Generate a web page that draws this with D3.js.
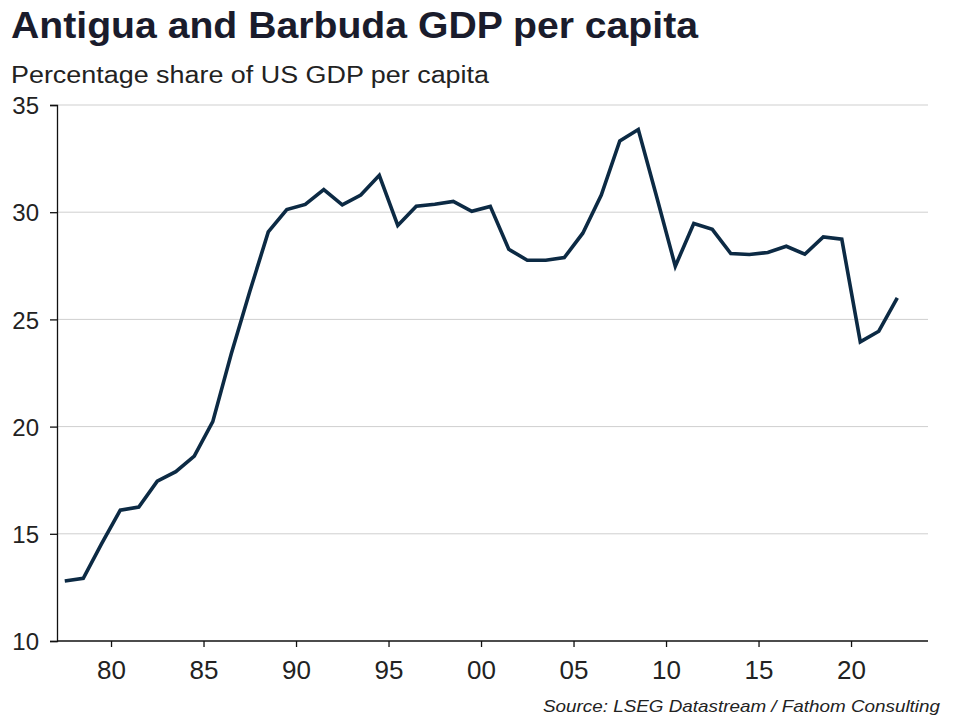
<!DOCTYPE html>
<html>
<head>
<meta charset="utf-8">
<script src="https://cdn.jsdelivr.net/npm/d3@7"></script>
<style>
  html, body { margin: 0; padding: 0; background: #fff; }
  svg { display: block; }
</style>
</head>
<body>
<svg id="chart" width="960" height="720"></svg>
<script>
const years = [1977,1978,1979,1980,1981,1982,1983,1984,1985,1986,1987,1988,1989,1990,
  1991,1992,1993,1994,1995,1996,1997,1998,1999,2000,2001,2002,2003,2004,2005,2006,
  2007,2008,2009,2010,2011,2012,2013,2014,2015,2016,2017,2018,2019,2020,2021,2022];
const shareOfUS = [12.8,12.92,14.55,16.1,16.25,17.45,17.9,18.62,20.23,23.4,26.3,29.08,30.12,30.36,
  31.05,30.34,30.8,31.72,29.38,30.28,30.37,30.5,30.04,30.27,28.27,27.76,27.76,27.88,29.02,30.8,
  33.32,33.86,30.7,27.48,29.47,29.2,28.07,28.03,28.12,28.41,28.04,28.85,28.74,23.95,24.45,26.0];
const yTicks = [10,15,20,25,30,35];
const xTickYears = [1980,1985,1990,1995,2000,2005,2010,2015,2020];
const xTickLabels = ["80","85","90","95","00","05","10","15","20"];

const titleText = "Antigua and Barbuda GDP per capita";
const subtitleText = "Percentage share of US GDP per capita";
const sourceText = "Source: LSEG Datastream / Fathom Consulting";

const svg = d3.select("#chart");
const font = "'Liberation Sans', Arial, sans-serif";
const plotL = 57, plotR = 928, plotT = 105, plotB = 641;

const x = d3.scaleLinear().domain([1977.08, 2024.16]).range([plotL, plotR]);
const y = d3.scaleLinear().domain([10, 35]).range([plotB, plotT]);

// Title & subtitle
svg.append("text").attr("x", 11).attr("y", 38)
  .attr("font-family", font).attr("font-weight", "bold").attr("font-size", 36)
  .attr("textLength", 687).attr("lengthAdjust", "spacingAndGlyphs")
  .attr("fill", "#1a1c2c").text(titleText);
svg.append("text").attr("x", 11).attr("y", 83)
  .attr("font-family", font).attr("font-size", 23.5)
  .attr("textLength", 478).attr("lengthAdjust", "spacingAndGlyphs")
  .attr("fill", "#222").text(subtitleText);

// gridlines
svg.append("g").selectAll("line").data(yTicks.filter(d => d !== 10)).join("line")
  .attr("x1", plotL).attr("x2", plotR)
  .attr("y1", d => y(d)).attr("y2", d => y(d))
  .attr("stroke", "#cfcfcf").attr("stroke-width", 1);

// y axis
const yAxis = d3.axisLeft(y).tickValues(yTicks).tickSize(7).tickPadding(11).tickFormat(d3.format("d"));
const gy = svg.append("g").attr("transform", `translate(${plotL},0)`).call(yAxis);
gy.select(".domain").attr("stroke", "#111").attr("stroke-width", 1.3);
gy.selectAll(".tick line").attr("stroke", "#111").attr("stroke-width", 1.3);
gy.selectAll(".tick text").attr("font-family", font).attr("font-size", 24).attr("fill", "#222")
  .attr("dy", "0.36em");

// x axis
const xAxis = d3.axisBottom(x).tickValues(xTickYears).tickSize(6).tickPadding(9)
  .tickFormat((d, i) => xTickLabels[i]);
const gx = svg.append("g").attr("transform", `translate(0,${plotB})`).call(xAxis);
gx.select(".domain").attr("stroke", "#111").attr("stroke-width", 1.3)
  .attr("d", `M${plotL},0H${plotR}`);
gx.selectAll(".tick text").attr("font-family", font).attr("font-size", 26).attr("fill", "#222")
  .attr("dy", "0.9em");
gx.selectAll(".tick line").attr("stroke", "#111").attr("stroke-width", 1.3);

// line
const line = d3.line()
  .x((d, i) => x(years[i] + 0.5))
  .y(d => y(d));
svg.append("path").datum(shareOfUS)
  .attr("d", line)
  .attr("fill", "none").attr("stroke", "#0c2a44").attr("stroke-width", 3.6)
  .attr("stroke-linejoin", "miter").attr("stroke-linecap", "butt");

// source
svg.append("text").attr("x", 940).attr("y", 712).attr("text-anchor", "end")
  .attr("font-family", font).attr("font-style", "italic").attr("font-size", 17)
  .attr("textLength", 397).attr("lengthAdjust", "spacingAndGlyphs")
  .attr("fill", "#222").text(sourceText);
</script>
</body>
</html>
